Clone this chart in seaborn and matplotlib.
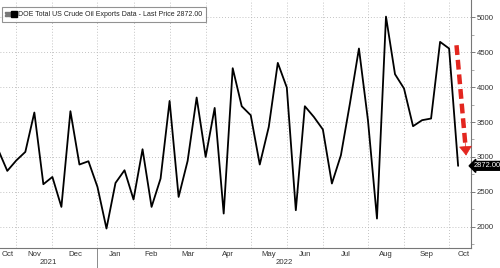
import matplotlib
matplotlib.use("Agg")
import matplotlib.pyplot as plt
from matplotlib.lines import Line2D
from matplotlib.legend_handler import HandlerTuple
import seaborn as sns
import pandas as pd
import numpy as np

# ---- data (weekly) ----
start_date = "2021-10-22"
exports = [3100, 2800, 2950, 3072, 3636, 2609, 2713, 2284, 3655, 2891, 2938,
           2570, 1974, 2627, 2809, 2390, 3110, 2284, 2690, 3802, 2427, 2943,
           3851, 3000, 3702, 2189, 4271, 3726, 3597, 2891, 3430, 4347, 3994,
           2236, 3726, 3573, 3393, 2619, 3024, 3765, 4553, 3526, 2117, 5010,
           4185, 3980, 3440, 3526, 3550, 4648, 4553, 2872]
last_price = 2872.00
series_label = "DOE Total US Crude Oil Exports Data - Last Price 2872.00"
month_labels = ["Oct", "Nov", "Dec", "Jan", "Feb", "Mar", "Apr", "May", "Jun",
                "Jul", "Aug", "Sep", "Oct"]
year_labels = ["2021", "2022"]
y_ticks = [2000, 2500, 3000, 3500, 4000, 4500, 5000]

dates = pd.date_range(start_date, periods=len(exports), freq="7D")
df = pd.DataFrame({"date": dates, "value": exports})

sns.set_style("white")
plt.rcParams["font.family"] = ["Liberation Sans", "DejaVu Sans"]
FS = 5.6
TXT = "#333333"

fig = plt.figure(figsize=(5.0, 2.68), dpi=100)
ax = fig.add_axes([0.0, 0.0746, 0.942, 0.9254])

sns.lineplot(data=df, x="date", y="value", ax=ax, color="black", linewidth=1.3)

x0 = pd.Timestamp("2021-10-23 08:00")
x1 = pd.Timestamp("2022-10-24 00:00")
ax.set_xlim(x0, x1)
ax.set_ylim(1695, 5248)

# month-start gridlines (first data week of each month)
firsts = df.groupby([df.date.dt.year, df.date.dt.month])["date"].min().tolist()
firsts = [d for d in firsts if not (d.month == 10 and d.year == 2021)]
ax.set_xticks(firsts)
ax.set_xticklabels([])
ax.tick_params(axis="x", which="major", direction="out", length=3, width=0.6,
               color="#666666")

# month labels centred in each month band
edges = [x0] + firsts + [x1 + pd.Timedelta(days=6)]
mids = [edges[i] + (edges[i + 1] - edges[i]) / 2 for i in range(len(edges) - 1)]
ax.set_xticks(mids, minor=True)
ax.set_xticklabels(month_labels, minor=True)
ax.tick_params(axis="x", which="minor", length=0, labelsize=FS, pad=2,
               labelcolor=TXT)

# y axis on the right
ax.yaxis.tick_right()
ax.set_yticks(y_ticks)
ax.set_yticklabels([str(v) for v in y_ticks])
ax.set_yticks(np.arange(1750, 5250, 250), minor=True)
ax.tick_params(axis="y", which="major", direction="out", length=3, width=0.6,
               labelsize=FS, pad=1, color="#666666", labelcolor=TXT)
ax.tick_params(axis="y", which="minor", direction="out", length=2, width=0.5,
               color="#888888")
ax.set_xlabel("")
ax.set_ylabel("")

ax.grid(True, which="major", color="#b0b0b0", linestyle=(0, (1, 2.5)),
        linewidth=0.6)

for s in ["top", "left"]:
    ax.spines[s].set_visible(False)
ax.spines["right"].set_color("#777777")
ax.spines["right"].set_linewidth(0.8)
ax.spines["bottom"].set_color("#777777")
ax.spines["bottom"].set_linewidth(0.8)

# year labels and separator
jan = [d for d in firsts if d.month == 1][0]
trans = ax.get_xaxis_transform()
ax.text(x0 + (jan - x0) / 2, -0.058, year_labels[0], transform=trans,
        ha="center", va="center", fontsize=FS, color=TXT)
ax.text(jan + (x1 - jan) / 2, -0.058, year_labels[1], transform=trans,
        ha="center", va="center", fontsize=FS, color=TXT)
ax.plot([jan, jan], [0, -0.09], transform=trans, color="#777777",
        linewidth=0.6, clip_on=False)

# legend box
h_eq = Line2D([], [], marker=r"$\equiv$", color="#777777", linestyle="none",
              markersize=4)
h_sq = Line2D([], [], marker="s", color="black", linestyle="none", markersize=4.5)
leg = ax.legend([(h_eq, h_sq)], [series_label], loc="upper left",
                handler_map={tuple: HandlerTuple(ndivide=None, pad=0.1)},
                bbox_to_anchor=(0.005, 0.97), frameon=True, fancybox=False,
                fontsize=5.05, handlelength=1.4, handletextpad=0.3,
                borderpad=0.55, borderaxespad=0.0)
leg.get_frame().set_edgecolor("#777777")
leg.get_frame().set_linewidth(0.8)
for t in leg.get_texts():
    t.set_color("#222222")

# red dashed arrow
a_start = (pd.Timestamp("2022-10-12 18:00"), 4600)
a_end = (pd.Timestamp("2022-10-20 08:00"), 2980)
ax.plot([a_start[0], pd.Timestamp("2022-10-19 20:00")], [a_start[1], 3130],
        color="#e3261f", linewidth=3.2, linestyle=(0, (2.2, 1.1)),
        solid_capstyle="butt", zorder=5)
ax.annotate("", xy=a_end, xytext=(pd.Timestamp("2022-10-19 08:00"), 3250),
            arrowprops=dict(arrowstyle="-|>,head_length=0.5,head_width=0.35",
                            color="#e3261f", lw=0.5, mutation_scale=12),
            zorder=6)

# last price tag
ax.annotate(f"{last_price:.2f}", xy=(1.0, last_price),
            xycoords=("axes fraction", "data"), xytext=(2.0, 0),
            textcoords="offset points", ha="left", va="center",
            fontsize=FS - 0.2, color="white", annotation_clip=False,
            bbox=dict(boxstyle="larrow,pad=0.12", fc="black", ec="black"))

fig.savefig("out.png", dpi=100)
